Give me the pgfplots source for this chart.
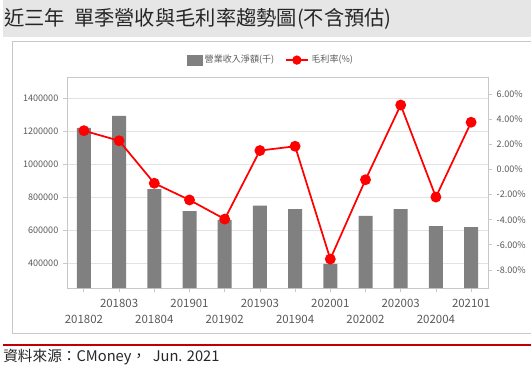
\documentclass[border=0pt]{standalone}
\usepackage{pgfplots}
\pgfplotsset{compat=1.18}
\usepackage{pgfplotstable}
\usepackage{fontspec}
\setmainfont{Noto Sans CJK TC}
\definecolor{bargray}{HTML}{808080}
\definecolor{linered}{HTML}{FF0000}
\definecolor{ticktext}{HTML}{595959}
\definecolor{gridc}{HTML}{E3E3E3}
\definecolor{axisc}{HTML}{C8C8C8}
\definecolor{framec}{HTML}{C8C8C8}
\definecolor{bandc}{HTML}{E6E6E6}
\definecolor{darkred}{HTML}{C00000}

\pgfplotstableread{
x rev gm
0 1218000 3.08
1 1291000 2.28
2 848000 -1.10
3 715000 -2.43
4 661000 -3.95
5 748000 1.50
6 727000 1.84
7 394000 -7.13
8 685000 -0.82
9 727000 5.12
10 624000 -2.20
11 618000 3.75
}\data

\begin{document}
\begin{tikzpicture}
\begin{scope}[x=0.75pt,y=-0.75pt]
\path[use as bounding box] (0,0) rectangle (531,385);
\fill[bandc] (3,0) rectangle (531,37);
\node[anchor=west, font=\fontsize{15.2}{18}\selectfont, text=black!85, inner sep=0] at (4,19) {近三年\ \ 單季營收與毛利率趨勢圖(不含預估)};
\draw[framec, line width=0.75pt] (531,42) -- (12,42) -- (12,333) -- (531,333);
\draw[darkred, line width=1.5pt] (3,345) -- (531,345);
\node[anchor=west, font=\fontsize{11}{13}\selectfont, inner sep=0, text=black!85] at (3,357) {資料來源：CMoney，\ \ Jun. 2021};
\end{scope}

\begin{axis}[
  at={(50.25pt,-216pt)}, anchor=south west,
  scale only axis, width=315.75pt, height=158.25pt,
  xmin=-0.48, xmax=11.48, ymin=248500, ymax=1527000,
  scaled y ticks=false,
  axis line style={draw=axisc, line width=0.6pt},
  ytick={400000,600000,800000,1000000,1200000,1400000},
  yticklabels={400000,600000,800000,1000000,1200000,1400000},
  ytick pos=left, xtick pos=bottom,
  tick align=outside, major tick length=3pt,
  tick style={draw=axisc, line width=0.6pt},
  ymajorgrids, grid style={draw=gridc, line width=0.6pt},
  yticklabel style={font=\fontsize{6.8}{8}\selectfont, text=ticktext},
  xtick={1,3,5,7,9,11},
  xticklabels={201803,201901,201903,202001,202003,202101},
  extra x ticks={0,2,4,6,8,10},
  extra x tick labels={201802,201804,201902,201904,202002,202004},
  extra x tick style={xticklabel style={yshift=-12pt}},
  xticklabel style={font=\fontsize{8.6}{10}\selectfont, text=ticktext, yshift=-2pt},
]
\addplot[ybar, bar width=10.5pt, fill=bargray, draw=none] table[x=x, y=rev] {\data};
\end{axis}

\begin{axis}[
  at={(50.25pt,-216pt)}, anchor=south west,
  scale only axis, width=315.75pt, height=158.25pt,
  xmin=-0.48, xmax=11.48, ymin=-9.43, ymax=7.35,
  axis x line=none, axis y line*=right,
  axis line style={draw=axisc, line width=0.6pt},
  ytick={-8,-6,-4,-2,0,2,4,6},
  yticklabels={-8.00\%,-6.00\%,-4.00\%,-2.00\%,0.00\%,2.00\%,4.00\%,6.00\%},
  tick align=outside, major tick length=3pt,
  tick style={draw=axisc, line width=0.6pt},
  yticklabel style={font=\fontsize{6.8}{8}\selectfont, text=ticktext},
  legend columns=2,
  legend style={at={(0.486,1.08)}, anchor=center, draw=none, fill=none,
    font=\fontsize{6.8}{8}\selectfont, text=ticktext,
    /tikz/every even column/.append style={column sep=6pt}},
]
\addlegendimage{legend image code/.code={\fill[bargray] (0cm,-0.14cm) rectangle (0.37cm,0.14cm);}}
\addlegendentry{營業收入淨額(千)}
\addplot[color=linered, line width=1.3pt, mark=*, mark size=3.4pt,
  mark options={fill=linered, draw=linered},
  legend image code/.code={\draw[linered, line width=1.3pt] (0cm,0cm) -- (0.58cm,0cm); \fill[linered] (0.29cm,0cm) circle (2.8pt);}]
  table[x=x, y=gm] {\data};
\addlegendentry{毛利率(\%)}
\end{axis}
\end{tikzpicture}
\end{document}
